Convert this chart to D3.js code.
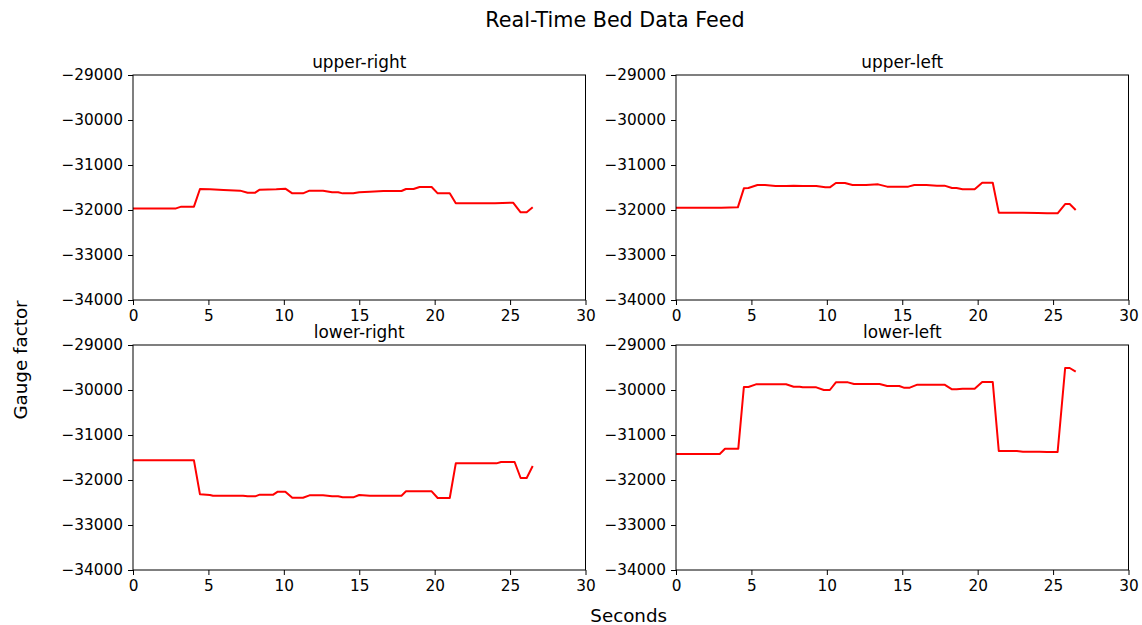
<!DOCTYPE html>
<html>
<head>
<meta charset="utf-8">
<script src="https://cdn.jsdelivr.net/npm/d3@7"></script>
<style>
  html, body { margin: 0; padding: 0; background: #fff; }
  svg text { font-family: "DejaVu Sans", sans-serif; fill: #000; }
</style>
</head>
<body>
<svg id="chart" width="1142" height="625"></svg>
<script>
// Sensor readings per bed corner: time (s) and gauge factor
const upperRightT = [0, 2.85, 3.2, 4.04, 4.44, 5.1, 6.0, 7.1, 7.6, 8.1, 8.4, 9.5, 10.1, 10.56, 11.27, 11.7, 12.6, 13.2, 13.6, 13.9, 14.6, 15.0, 15.7, 16.6, 17.8, 18.1, 18.6, 19.0, 19.8, 20.2, 21.0, 21.4, 24.0, 25.2, 25.7, 26.1, 26.5];
const upperRightV = [-31965, -31965, -31926, -31926, -31533, -31540, -31556, -31570, -31615, -31615, -31548, -31540, -31526, -31630, -31630, -31570, -31570, -31607, -31607, -31630, -31630, -31607, -31593, -31578, -31578, -31533, -31533, -31489, -31489, -31630, -31630, -31852, -31850, -31837, -32052, -32052, -31941];

const upperLeftT = [0, 3.0, 4.1, 4.5, 4.8, 5.4, 5.9, 6.6, 7.3, 7.8, 8.4, 9.3, 9.9, 10.2, 10.6, 11.2, 11.7, 12.6, 13.4, 14.0, 15.4, 15.8, 16.6, 17.3, 17.8, 18.3, 18.6, 19.0, 19.8, 20.3, 21.0, 21.4, 23.0, 24.0, 24.6, 25.3, 25.8, 26.1, 26.5];
const upperLeftV = [-31948, -31948, -31941, -31519, -31511, -31444, -31444, -31467, -31467, -31459, -31467, -31467, -31496, -31496, -31400, -31400, -31444, -31444, -31430, -31481, -31481, -31444, -31444, -31459, -31459, -31511, -31511, -31541, -31541, -31393, -31393, -32059, -32059, -32067, -32074, -32074, -31867, -31867, -32000];

const lowerRightT = [0, 4.04, 4.44, 5.1, 5.3, 7.3, 7.6, 8.1, 8.4, 9.3, 9.6, 10.1, 10.56, 11.27, 11.7, 12.6, 13.2, 13.6, 13.9, 14.6, 15.0, 15.7, 17.8, 18.1, 19.8, 20.2, 21.0, 21.4, 24.1, 24.4, 25.3, 25.7, 26.1, 26.5];
const lowerRightV = [-31563, -31563, -32319, -32333, -32348, -32348, -32363, -32363, -32326, -32326, -32259, -32259, -32393, -32393, -32341, -32341, -32363, -32363, -32385, -32385, -32333, -32348, -32348, -32252, -32252, -32400, -32400, -31630, -31630, -31600, -31600, -31956, -31956, -31689];

const lowerLeftT = [0, 2.9, 3.25, 4.13, 4.5, 4.8, 5.3, 7.3, 7.8, 8.2, 8.4, 9.3, 9.8, 10.2, 10.6, 11.4, 11.8, 13.5, 14.0, 14.8, 15.1, 15.5, 16.0, 17.8, 18.3, 18.6, 19.0, 19.8, 20.3, 21.0, 21.4, 22.6, 23.0, 24.1, 24.6, 25.3, 25.8, 26.1, 26.5];
const lowerLeftV = [-31422, -31422, -31304, -31304, -29933, -29933, -29874, -29874, -29926, -29926, -29941, -29941, -30000, -30000, -29830, -29830, -29867, -29867, -29911, -29911, -29948, -29948, -29881, -29881, -29985, -29985, -29970, -29970, -29822, -29822, -31356, -31356, -31370, -31370, -31378, -31378, -29511, -29511, -29593];

const panelTitles = ["upper-right", "upper-left", "lower-right", "lower-left"];
const xTicks = [0, 5, 10, 15, 20, 25, 30];
const yTicks = [-29000, -30000, -31000, -32000, -33000, -34000];

const panels = [
  { title: panelTitles[0], t: upperRightT, v: upperRightV, left: 133, top: 75 },
  { title: panelTitles[1], t: upperLeftT, v: upperLeftV, left: 676, top: 75 },
  { title: panelTitles[2], t: lowerRightT, v: lowerRightV, left: 133, top: 345 },
  { title: panelTitles[3], t: lowerLeftT, v: lowerLeftV, left: 676, top: 345 }
];
const W = 452.5, H = 225;
const fmt = d => d < 0 ? "\u2212" + Math.abs(d) : String(d);

const svg = d3.select("#chart");
svg.append("rect").attr("width", 1142).attr("height", 625).attr("fill", "#fff");

svg.append("text").attr("x", 615).attr("y", 26.7).attr("text-anchor", "middle")
  .style("font-size", "20.7px").text("Real-Time Bed Data Feed");
svg.append("text").attr("x", 628.7).attr("y", 621.7).attr("text-anchor", "middle")
  .style("font-size", "18.3px").text("Seconds");
svg.append("text").attr("transform", "translate(26.5,360) rotate(-90)").attr("text-anchor", "middle")
  .style("font-size", "18.3px").text("Gauge factor");

panels.forEach(p => {
  const x = d3.scaleLinear().domain([0, 30]).range([0, W]);
  const y = d3.scaleLinear().domain([-34000, -29000]).range([H, 0]);
  const g = svg.append("g").attr("transform", `translate(${p.left},${p.top})`);

  const xa = g.append("g").attr("transform", `translate(0,${H})`)
    .call(d3.axisBottom(x).tickValues(xTicks).tickSize(5).tickPadding(5).tickFormat(d3.format("d")));
  const ya = g.append("g")
    .call(d3.axisLeft(y).tickValues(yTicks).tickSize(5).tickPadding(5).tickFormat(fmt));
  [xa, ya].forEach(a => {
    a.select(".domain").remove();
    a.selectAll("line").attr("stroke", "#000").attr("stroke-width", 1);
    a.selectAll("text").style("font-size", "15.3px").attr("fill", "#000");
  });
  xa.selectAll("text").attr("dy", "0.71em");

  const line = d3.line().x((d, i) => x(p.t[i])).y(d => y(d));
  g.append("path").datum(p.v).attr("d", line)
    .attr("fill", "none").attr("stroke", "#ff0000").attr("stroke-width", 2).attr("stroke-linejoin", "round");

  g.append("rect").attr("width", W).attr("height", H)
    .attr("fill", "none").attr("stroke", "#000").attr("stroke-width", 1);

  g.append("text").attr("x", W / 2).attr("y", -7).attr("text-anchor", "middle")
    .style("font-size", "16.9px").text(p.title);
});
</script>
</body>
</html>
